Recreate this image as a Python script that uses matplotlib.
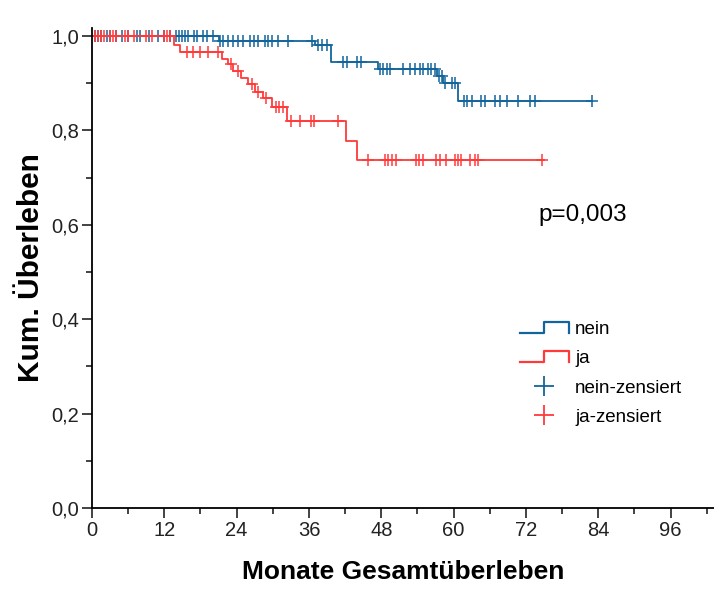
import numpy as np
import matplotlib
matplotlib.use('Agg')
import matplotlib.pyplot as plt
from matplotlib.lines import Line2D
from matplotlib.legend_handler import HandlerBase
from matplotlib.ticker import MultipleLocator, FuncFormatter

# Kaplan-Meier steps (months, cumulative survival)
nein_t = [0, 21.0, 37.0, 39.7, 47.4, 57.3, 58.3, 60.8]
nein_s = [1.0, 0.990, 0.980, 0.946, 0.931, 0.915, 0.901, 0.863]
nein_end = 83.0
nein_cens = [0.5, 1, 1.5, 2.5, 3, 4, 5, 6, 7.5, 8, 9.5, 11, 12, 13, 14, 14.5, 15, 15.5,
             16, 17, 17.5, 18.4, 19, 20, 21.2, 21.8, 22.5, 23.4, 24.2, 25, 26.2, 26.8,
             27.5, 28.7, 29.2, 29.8, 30.8, 32.5, 36.5, 37.5, 38.2, 39, 41.6, 42.3, 43.9,
             44.7, 47.8, 48.3, 48.9, 49.4, 51.6, 52.7, 53.6, 54.4, 54.9, 55.7, 56.3, 56.9,
             57.6, 58.0, 58.6, 59.7, 60.2, 61.8, 62.3, 63, 64.6, 65.2, 66.8, 67.7, 68.8,
             70.7, 72.6, 73.5, 82.9]

ja_t = [0, 13.6, 14.6, 21.5, 22.6, 23.4, 24.8, 25.9, 27.0, 28.4, 29.8, 32.3, 42.2, 43.9]
ja_s = [1.0, 0.982, 0.966, 0.951, 0.940, 0.926, 0.912, 0.898, 0.882, 0.868, 0.850,
        0.820, 0.778, 0.738]
ja_end = 75.0
ja_cens = [0.5, 1, 1.5, 2, 3, 3.5, 4, 5.5, 6, 7, 9, 10, 12, 12.5, 13, 15.7, 16.8, 17.9,
           19.2, 20.9, 23, 24.3, 26.5, 27.5, 28.8, 30.5, 31, 31.7, 33.1, 34.5, 36.4, 36.8,
           40.8, 45.8, 48.6, 49.1, 49.7, 50.5, 53.8, 54.3, 54.9, 57.1, 57.7, 58.8, 60.2,
           60.7, 61.3, 62.7, 63.5, 64, 74.6]

blue = '#12659c'
red = '#ff3a3a'

plt.rcParams['font.family'] = ['Liberation Sans', 'DejaVu Sans']

fig = plt.figure(figsize=(7.14, 5.89), dpi=100)
ax = fig.add_axes([92 / 714, 81 / 589, 622 / 714, 480 / 589])


def km(ax, t, s, end, cens, color):
    tt = list(t) + [end]
    ss = list(s) + [s[-1]]
    ax.plot(tt, ss, drawstyle='steps-post', color=color, lw=1.3)
    idx = np.searchsorted(t, cens, side='right') - 1
    ax.plot(cens, np.array(s)[idx], ls='none', marker='+', ms=8.5, mew=1.1, color=color)


km(ax, nein_t, nein_s, nein_end, nein_cens, blue)
km(ax, ja_t, ja_s, ja_end, ja_cens, red)

ax.set_xlim(0, 103.2)
ax.set_ylim(0, 1.017)
ax.spines['top'].set_visible(False)
ax.spines['right'].set_visible(False)
ax.spines['left'].set_linewidth(1.3)
ax.spines['bottom'].set_linewidth(1.3)
ax.xaxis.set_major_locator(MultipleLocator(12))
ax.xaxis.set_minor_locator(MultipleLocator(6))
ax.yaxis.set_major_locator(MultipleLocator(0.2))
ax.yaxis.set_minor_locator(MultipleLocator(0.1))
ax.yaxis.set_major_formatter(FuncFormatter(lambda v, p: f'{v:.1f}'.replace('.', ',')))
ax.tick_params(which='major', length=7, width=1.2, labelsize=14.5, colors='#222222',
               pad=2)
ax.tick_params(which='minor', length=4, width=1.2, colors='#222222')

ax.set_xlabel('Monate Gesamtüberleben', fontsize=19, fontweight='bold', labelpad=15)
ax.set_ylabel('Kum. Überleben', fontsize=21.5, fontweight='bold', labelpad=5)

ax.text(74, 0.62, 'p=0,003', fontsize=17.5, va='center', ha='left')


class StepHandler(HandlerBase):
    def create_artists(self, legend, orig_handle, xdescent, ydescent, width, height,
                       fontsize, trans):
        x0 = -xdescent
        y0 = -ydescent
        xs = [x0, x0 + 0.5 * width, x0 + 0.5 * width, x0 + width, x0 + width]
        ys = [y0 + 0.1 * height, y0 + 0.1 * height, y0 + 0.9 * height,
              y0 + 0.9 * height, y0 + 0.1 * height]
        ln = Line2D(xs, ys, color=orig_handle.get_color(), lw=1.6, transform=trans)
        return [ln]


h_nein = Line2D([], [], color=blue)
h_ja = Line2D([], [], color=red)
h_nc = Line2D([], [], ls='none', marker='+', ms=14, mew=1.3, color=blue)
h_jc = Line2D([], [], ls='none', marker='+', ms=14, mew=1.3, color=red)
ax.legend([h_nein, h_ja, h_nc, h_jc], ['nein', 'ja', 'nein-zensiert', 'ja-zensiert'],
          handler_map={h_nein: StepHandler(), h_ja: StepHandler()},
          loc='upper left', bbox_to_anchor=(0.688, 0.39), frameon=False,
          fontsize=13.5, handlelength=2.6, handletextpad=0.35, labelspacing=0.65,
          borderpad=0, borderaxespad=0)

fig.savefig('out.png', dpi=100)
